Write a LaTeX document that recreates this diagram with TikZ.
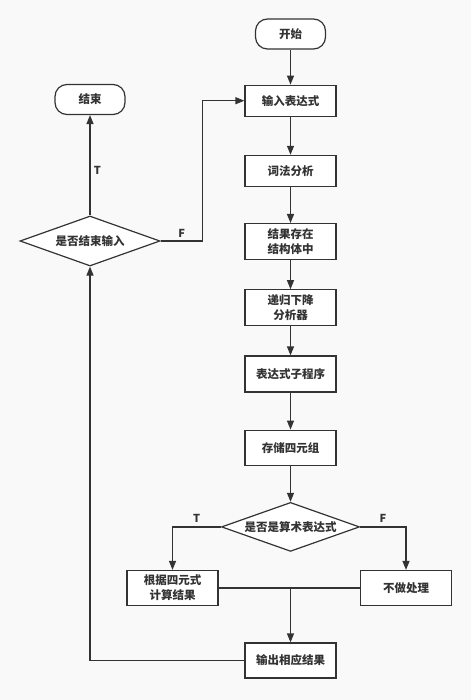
\documentclass[tikz,border=0pt]{standalone}
\usepackage{fontspec}
\setmainfont{Noto Sans CJK SC}
\usetikzlibrary{shapes,arrows.meta,positioning,calc}
\definecolor{linegray}{HTML}{333333}
\definecolor{bggray}{HTML}{F9F9F9}

\begin{document}
\begin{tikzpicture}[
    x=1pt, y=-1pt,
    node distance=35pt,
    box/.style={rectangle, draw=linegray, line width=1.2pt, fill=white, minimum width=91pt, minimum height=31pt, align=center, text=linegray, font=\bfseries\fontsize{11.5}{15}\selectfont},
    term/.style={box, rounded corners=12pt, minimum width=70pt, minimum height=30pt},
    decision/.style={diamond, draw=linegray, line width=1.2pt, fill=white, aspect=2.8, inner sep=0pt, text=linegray, font=\bfseries\fontsize{11.5}{15}\selectfont},
    line/.style={draw=linegray, line width=1.2pt},
    arrow/.style={line, -{Triangle[length=9pt,width=7pt]}},
    tag/.style={text=linegray, font=\bfseries\fontsize{11}{13}\selectfont}
]

\fill[bggray] (0,0) rectangle (471,700);
\useasboundingbox (0,0) rectangle (471,700);

% main column
\node[term] (start) at (290.5,34) {开始};
\node[box, below=35pt of start] (input) {输入表达式};
\node[box, below=38pt of input] (lex) {词法分析};
\node[box, below=36pt of lex, minimum height=36pt] (store) {结果存在\\结构体中};
\node[box, below=29pt of store, minimum height=36pt] (rdp) {递归下降\\分析器};
\node[box, below=29pt of rdp, minimum height=36pt] (expr) {表达式子程序};
\node[box, below=37pt of expr, minimum height=35pt] (quad) {存储四元组};
\node[decision, below=36pt of quad, minimum width=138pt, minimum height=49pt] (isarith) {是否是算术表达式};

% branches
\node[box, minimum height=35pt] (calc) at (172.5,588) {根据四元式\\计算结果};
\node[box, minimum height=35pt] (skip) at (406,588) {不做处理};
\node[box, minimum height=35pt] (output) at (290.5,660.5) {输出相应结果};

% loop back
\node[term] (finish) at (90,99.5) {结束};
\node[decision, minimum width=140pt, minimum height=50pt] (isend) at (90,241) {是否结束输入};

\draw[arrow] (start) -- (input);
\draw[arrow] (input) -- (lex);
\draw[arrow] (lex) -- (store);
\draw[arrow] (store) -- (rdp);
\draw[arrow] (rdp) -- (expr);
\draw[arrow] (expr) -- (quad);
\draw[arrow] (quad) -- (isarith);

\draw[arrow] (isarith.west) -| node[tag, above, pos=0.25] {T} (calc.north);
\draw[arrow] (isarith.east) -| node[tag, above, pos=0.25] {F} (skip.north);
\draw[line] (calc.east) -- (skip.west);
\coordinate (merge) at (calc.east -| output.north);
\draw[arrow] (merge) -- (output);

\draw[arrow] (output.west) -| (isend.south);
\draw[arrow] (isend) -- node[tag, right, pos=0.45] {T} (finish);
\draw[arrow] (isend.east) -- node[tag, above] {F} ++(42,0) |- (input.west);

\end{tikzpicture}
\end{document}
